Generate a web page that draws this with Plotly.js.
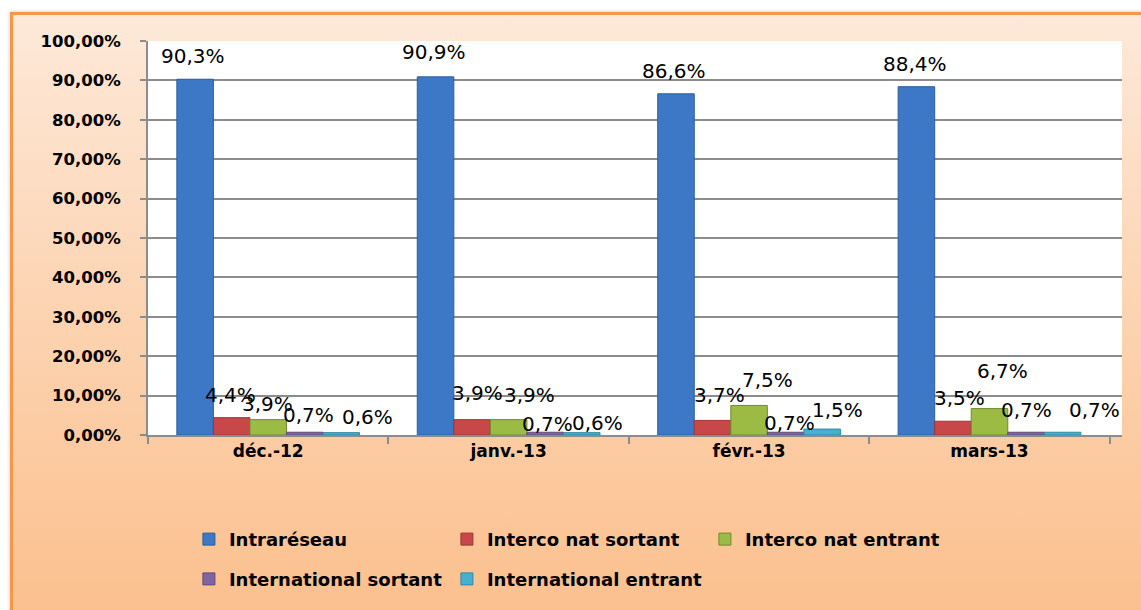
<!DOCTYPE html>
<html>
<head>
<meta charset="utf-8">
<script src="https://cdn.plot.ly/plotly-3.0.1.min.js"></script>
<style>
  html, body { margin: 0; padding: 0; background: #ffffff; overflow: hidden; }
  #frame {
    position: absolute; left: 10px; top: 12px; width: 1140px; height: 610px;
    border-left: 3px solid #f79646; border-top: 3px solid #f79646;
    background: linear-gradient(to bottom, #fde9d9 0%, #fcd5b4 45%, #fbbf8c 100%);
    box-shadow: -1px -1px 3px rgba(0,0,0,0.15);
  }
  #chart { position: absolute; left: 0; top: 0; width: 1141px; height: 610px; }
</style>
</head>
<body>
<div id="frame"></div>
<div id="chart"></div>
<script>
const months = ['déc.-12', 'janv.-13', 'févr.-13', 'mars-13'];
const seriesNames = ['Intraréseau', 'Interco nat sortant', 'Interco nat entrant', 'International sortant', 'International entrant'];
const intraReseau = [0.903, 0.909, 0.866, 0.884];
const intercoSortant = [0.044, 0.039, 0.037, 0.035];
const intercoEntrant = [0.039, 0.039, 0.075, 0.067];
const intlSortant = [0.007, 0.007, 0.007, 0.007];
const intlEntrant = [0.006, 0.006, 0.015, 0.007];
const yTicks = [0, 0.1, 0.2, 0.3, 0.4, 0.5, 0.6, 0.7, 0.8, 0.9, 1.0];

const allSeries = [intraReseau, intercoSortant, intercoEntrant, intlSortant, intlEntrant];
const colors = ['#3c78c5', '#c8484a', '#9bbb45', '#8064a2', '#45b0cf'];
const edges = ['#2c5d9e', '#9c3634', '#71892f', '#5f4a7c', '#2f8aa5'];

// label nudges in px [dx, dy above bar top], Excel had them moved by hand
const labelNudge = [
    [[0, 23], [0, 25], [0, 23], [0, 23]],
    [[0, 23], [6, 27], [8, 25], [7, 23]],
    [[-1, 16], [21, 25], [18, 25], [13, 38]],
    [[3, 17], [1, 8], [3, 9], [-1, 22]],
    [[24, 16], [14, 10], [13, 19], [30, 22]]
];

const barStep = 37.5; // px between neighbouring bars in a group

const fmt = v => (v * 100).toFixed(1).replace('.', ',') + '%';

const data = allSeries.map((vals, k) => ({
    type: 'bar',
    name: seriesNames[k],
    x: months,
    y: vals,
    marker: { color: colors[k], line: { color: edges[k], width: 1 } },
    legend: k < 3 ? 'legend' : 'legend2',
    hoverinfo: 'none'
}));

const annotations = [];
allSeries.forEach((vals, k) => {
    vals.forEach((v, i) => {
        annotations.push({
            x: months[i], y: v, xref: 'x', yref: 'y',
            text: fmt(v), showarrow: false,
            xshift: (k - 2) * barStep + labelNudge[k][i][0],
            yshift: labelNudge[k][i][1],
            yanchor: 'middle', xanchor: 'center',
            font: { family: 'DejaVu Sans', size: 20, color: '#000000' }
        });
    });
});

const legendStyle = {
    orientation: 'h',
    xanchor: 'left', yanchor: 'middle',
    bgcolor: 'rgba(0,0,0,0)',
    font: { family: 'DejaVu Sans', size: 18, weight: 'bold', color: '#000000' },
    entrywidth: 213, entrywidthmode: 'pixels',
    itemwidth: 30,
    traceorder: 'normal'
};

const layout = {
    width: 1141,
    height: 610,
    margin: { l: 148, r: 19, t: 41, b: 173 },
    paper_bgcolor: 'rgba(0,0,0,0)',
    plot_bgcolor: '#ffffff',
    separators: ', ',
    barmode: 'group',
    bargap: 0.24,
    bargroupgap: 0,
    showlegend: true,
    legend: Object.assign({ x: 0.042, y: -0.265 }, legendStyle),
    legend2: Object.assign({ x: 0.042, y: -0.366 }, legendStyle),
    xaxis: {
        type: 'category',
        showline: true, linecolor: '#8c8c8c', linewidth: 2,
        ticks: 'outside', tickson: 'boundaries', ticklen: 7, tickcolor: '#8c8c8c', tickwidth: 2,
        tickfont: { family: 'DejaVu Sans', size: 17, weight: 'bold', color: '#000000' },
        showgrid: false,
        fixedrange: true
    },
    yaxis: {
        range: [0, 1],
        tickvals: yTicks,
        tickformat: '.2%',
        showline: true, linecolor: '#8c8c8c', linewidth: 2,
        ticks: 'outside', ticklen: 6, tickcolor: '#8c8c8c', tickwidth: 2,
        ticklabelstandoff: 16,
        showgrid: true, gridcolor: '#8c8c8c', gridwidth: 2,
        zeroline: false,
        tickfont: { family: 'DejaVu Sans', size: 16.5, weight: 'bold', color: '#000000' },
        fixedrange: true
    },
    annotations: annotations
};

Plotly.newPlot('chart', data, layout, { displayModeBar: false, staticPlot: true });
</script>
</body>
</html>
